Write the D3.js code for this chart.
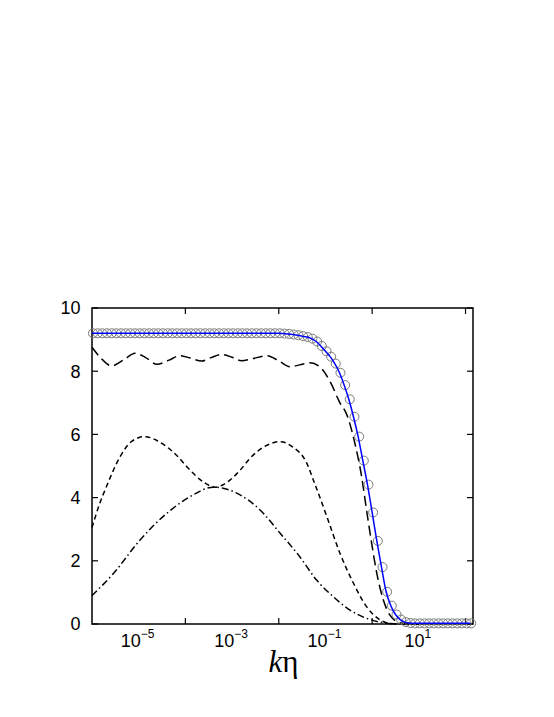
<!DOCTYPE html>
<html>
<head>
<meta charset="utf-8">
<script src="https://cdn.jsdelivr.net/npm/d3@7"></script>
<style>
  html, body { margin: 0; padding: 0; background: #fff; }
  svg { display: block; }
</style>
</head>
<body>
<script>
// ---------- DATA ----------
// x positions are given as log10(kη)
const circleLogK = [
  -6.0,-5.9,-5.8,-5.7,-5.6,-5.5,-5.4,-5.3,-5.2,-5.1,
  -5.0,-4.9,-4.8,-4.7,-4.6,-4.5,-4.4,-4.3,-4.2,-4.1,
  -4.0,-3.9,-3.8,-3.7,-3.6,-3.5,-3.4,-3.3,-3.2,-3.1,
  -3.0,-2.9,-2.8,-2.7,-2.6,-2.5,-2.4,-2.3,-2.2,-2.1,
  -2.0,-1.9,-1.8,-1.7,-1.6,-1.5,-1.4,-1.3,-1.2,-1.1,
  -1.0,-0.9,-0.8,-0.7,-0.6,-0.5,-0.4,-0.3,-0.2,-0.1,
   0.0, 0.1, 0.2, 0.3, 0.4, 0.5, 0.6, 0.7, 0.8, 0.9,
   1.0, 1.1, 1.2, 1.3, 1.4, 1.5, 1.6, 1.7, 1.8, 1.9,
   2.0, 2.1
];
const circleVal = [
  9.2,9.2,9.2,9.2,9.2,9.2,9.2,9.2,9.2,9.2,
  9.2,9.2,9.2,9.2,9.2,9.2,9.2,9.2,9.2,9.2,
  9.2,9.2,9.2,9.2,9.2,9.2,9.2,9.2,9.2,9.2,
  9.2,9.2,9.2,9.2,9.2,9.2,9.2,9.2,9.2,9.2,
  9.2,9.19,9.18,9.16,9.14,9.11,9.08,9.03,8.94,8.80,
  8.63,8.46,8.24,7.95,7.56,7.11,6.56,5.93,5.17,4.41,
  3.53,2.63,1.80,1.02,0.58,0.30,0.14,0.06,0.03,0.02,
  0.02,0.02,0.02,0.02,0.02,0.02,0.02,0.02,0.02,0.02,
  0.02,0.02
];

const longDashLogK = [-6.0,-5.8,-5.58,-5.3,-5.08,-4.85,-4.61,-4.35,-4.12,-3.9,-3.65,-3.45,-3.22,-3.0,-2.8,-2.55,-2.26,-2.0,-1.76,-1.55,-1.33,-1.12,-0.9,-0.69,-0.55,-0.37,-0.225,-0.12,-0.01,0.1,0.24,0.38,0.6,0.8,1.0];
const longDashVal  = [8.76,8.40,8.17,8.38,8.57,8.43,8.22,8.35,8.49,8.42,8.32,8.43,8.53,8.44,8.33,8.40,8.49,8.33,8.14,8.20,8.27,8.14,7.67,7.00,6.65,5.72,4.66,3.61,2.55,1.60,0.76,0.28,0.04,0.01,0.0];

const shortDashLogK = [-6.0,-5.85,-5.69,-5.4,-5.15,-4.87,-4.6,-4.4,-4.15,-3.97,-3.62,-3.37,-3.2,-3.04,-2.82,-2.62,-2.3,-1.97,-1.7,-1.4,-1.26,-0.97,-0.69,-0.4,-0.12,0.17,0.38,0.6,1.0];
const shortDashVal  = [3.05,3.75,4.35,5.29,5.78,5.93,5.80,5.61,5.28,4.98,4.50,4.33,4.40,4.56,4.88,5.24,5.62,5.77,5.60,5.09,4.56,3.40,2.24,1.29,0.55,0.13,0.02,0.0,0.0];

const dashDotLogK = [-6.0,-5.54,-4.97,-4.4,-3.9,-3.4,-2.9,-2.4,-1.97,-1.55,-1.19,-0.83,-0.475,-0.12,0.24,0.6,1.0];
const dashDotVal  = [0.90,1.60,2.66,3.50,4.03,4.33,4.14,3.61,2.87,2.13,1.39,0.86,0.44,0.18,0.04,0.0,0.0];

const yTicks = [0, 2, 4, 6, 8, 10];
const xMajorTickExp = [-4, -2, 0, 2];
const xLabelExp = [-5, -3, -1, 1];
const xLabelText = ["\u22125", "\u22123", "\u22121", "1"];

// ---------- LAYOUT ----------
const W = 554, H = 717;
const L = 92, R = 473, T = 308, B = 624;

const svg = d3.select("body").append("svg").attr("width", W).attr("height", H);

const x = d3.scaleLog().domain([1e-6, Math.pow(10, 2.16)]).range([L, R]);
const y = d3.scaleLinear().domain([0, 10]).range([B, T]);

const font = "'Liberation Sans', Arial, Helvetica, sans-serif";
const tickLen = 6;

// y ticks (left & right)
const gy = svg.append("g");
yTicks.forEach(v => {
  gy.append("line").attr("x1", L).attr("x2", L + tickLen).attr("y1", y(v)).attr("y2", y(v))
    .attr("stroke", "#000").attr("stroke-width", 1.2);
  gy.append("line").attr("x1", R).attr("x2", R - tickLen).attr("y1", y(v)).attr("y2", y(v))
    .attr("stroke", "#000").attr("stroke-width", 1.2);
  gy.append("text").attr("x", L - 11.5).attr("y", y(v)).attr("dy", "0.36em")
    .attr("text-anchor", "end").attr("font-family", font).attr("font-size", 18)
    .text(v);
});

// x ticks (bottom & top)
const gx = svg.append("g");
xMajorTickExp.forEach(e => {
  const px = x(Math.pow(10, e));
  gx.append("line").attr("x1", px).attr("x2", px).attr("y1", B).attr("y2", B - tickLen)
    .attr("stroke", "#000").attr("stroke-width", 1.2);
  gx.append("line").attr("x1", px).attr("x2", px).attr("y1", T).attr("y2", T + tickLen)
    .attr("stroke", "#000").attr("stroke-width", 1.2);
});
xLabelExp.forEach((e, i) => {
  const px = x(Math.pow(10, e));
  const t = gx.append("text").attr("x", px - 1).attr("y", 647)
    .attr("text-anchor", "middle").attr("font-family", font).attr("font-size", 18);
  t.append("tspan").text("10");
  t.append("tspan").attr("dy", -9).attr("font-size", 12).text(xLabelText[i]);
});

// axis title
const title = svg.append("text").attr("x", (L + R) / 2 + 1).attr("y", 672)
  .attr("text-anchor", "middle").attr("font-family", "'Liberation Serif', 'Times New Roman', serif")
  .attr("font-size", 31);
title.append("tspan").attr("font-style", "italic").text("k");
title.append("tspan").text("\u03B7");

// ---------- CURVES ----------
function lineFor(logs, vals) {
  return d3.line().curve(d3.curveMonotoneX)
    .x((d, i) => x(Math.pow(10, logs[i])))
    .y((d, i) => y(vals[i]))(vals);
}

svg.append("path").attr("d", lineFor(dashDotLogK, dashDotVal))
  .attr("fill", "none").attr("stroke", "#000").attr("stroke-width", 1.5)
  .attr("stroke-dasharray", "7,3,1.5,3");

svg.append("path").attr("d", lineFor(shortDashLogK, shortDashVal))
  .attr("fill", "none").attr("stroke", "#000").attr("stroke-width", 1.5)
  .attr("stroke-dasharray", "5,3.5");

svg.append("path").attr("d", lineFor(longDashLogK, longDashVal))
  .attr("fill", "none").attr("stroke", "#000").attr("stroke-width", 1.5)
  .attr("stroke-dasharray", "10,5");

// frame
svg.append("rect").attr("x", L).attr("y", T).attr("width", R - L).attr("height", B - T)
  .attr("fill", "none").attr("stroke", "#000").attr("stroke-width", 1.5);

// circles
svg.append("g").selectAll("circle").data(circleVal).join("circle")
  .attr("cx", (d, i) => x(Math.pow(10, circleLogK[i])) + 1)
  .attr("cy", d => y(d))
  .attr("r", 4.5)
  .attr("fill", "none")
  .attr("stroke", "#7a7a7a")
  .attr("stroke-width", 1);

// blue line
svg.append("path").attr("d", lineFor(circleLogK, circleVal))
  .attr("fill", "none").attr("stroke", "#0000ff").attr("stroke-width", 1.5);
</script>
</body>
</html>
